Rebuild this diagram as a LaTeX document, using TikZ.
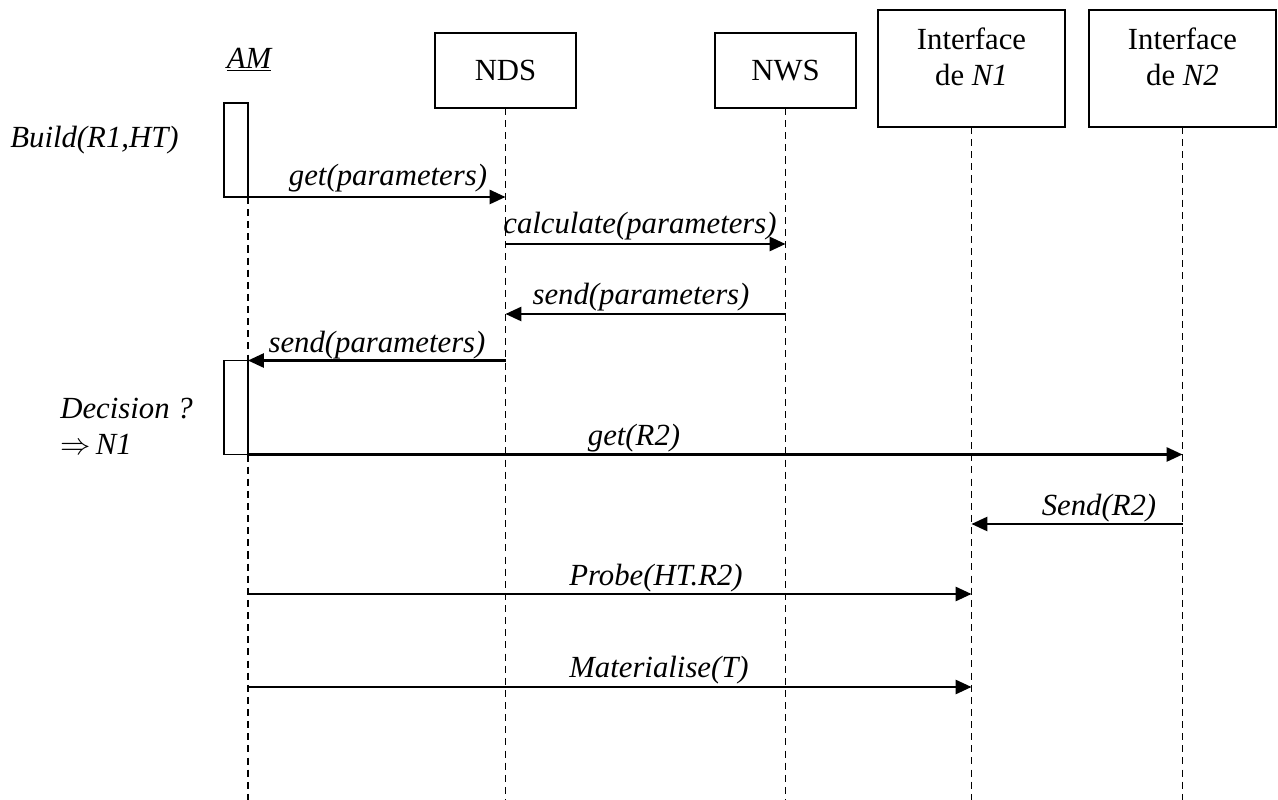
\documentclass[tikz,border=0pt]{standalone}
\usepackage{fontspec}
\setmainfont{Liberation Serif}
\usetikzlibrary{arrows.meta}

\newcommand{\diagfont}{\fontsize{17.5}{20.5}\selectfont}

\begin{document}
\begin{tikzpicture}[x=0.02cm, y=-0.02cm,
  headbox/.style={draw, line width=0.9pt, inner sep=0pt, outer sep=0pt},
  actbox/.style={draw, line width=0.9pt, inner sep=0pt, outer sep=0pt,
    minimum width=0.48cm, minimum height=1.88cm},
  lifeline/.style={line width=1.05pt, dash pattern=on 4pt off 2.9pt},
  msg/.style={line width=1.3pt, -{Triangle[length=9pt,width=8pt]}},
  lbl/.style={font=\diagfont\itshape, inner sep=0pt},
  headtext/.style={font=\diagfont, inner sep=0pt, align=center}]

\useasboundingbox (0,0) rectangle (1278,800);
\coordinate (bottom) at (0,800);

% object heads
\node[font=\diagfont\itshape, inner sep=0pt] (am) at (249,60) {\underline{AM}};
\node[headbox, minimum width=2.82cm, minimum height=1.5cm, headtext] (nds) at (505.5,70.5) {NDS};
\node[headbox, minimum width=2.82cm, minimum height=1.5cm, headtext] (nws) at (785.5,70.5) {NWS};
\node[headbox, minimum width=3.74cm, minimum height=2.34cm] (n1) at (971.5,68.5) {};
\node[headbox, minimum width=3.74cm, minimum height=2.34cm] (n2) at (1182.5,68.5) {};
\node[headtext, anchor=north] (n1t) at ([yshift=-0.35cm]n1.north) {Interface\\de \textit{N1}};
\node[headtext, anchor=north] (n2t) at ([yshift=-0.35cm]n2.north) {Interface\\de \textit{N2}};

% activation boxes of AM
\node[actbox] (act1) at (236,150) {};
\node[actbox] (act2) at (236,407.5) {};

% lifelines
\draw[lifeline] (act1.south east) -- (act2.north east);
\draw[lifeline] (act2.south east) -- (act2.south east |- bottom);
\draw[lifeline] (nds.south) -- (nds.south |- bottom);
\draw[lifeline] (nws.south) -- (nws.south |- bottom);
\draw[lifeline] (n1.south) -- (n1.south |- bottom);
\draw[lifeline] (n2.south) -- (n2.south |- bottom);

% message rows
\coordinate (r2) at (0,244);
\coordinate (r3) at (0,314);
\coordinate (r6) at (0,524);
\coordinate (r7) at (0,594);
\coordinate (r8) at (0,687);

% messages
\draw[msg] (act1.south east) -- (nds |- act1.south east);
\draw[msg] (nds |- r2) -- (nws |- r2);
\draw[msg] (nws |- r3) -- (nds |- r3);
\draw[msg] (nds |- act2.north east) -- (act2.north east);
\draw[msg] (act2.south east) -- (n2 |- act2.south east);
\draw[msg] (n2 |- r6) -- (n1 |- r6);
\draw[msg] (am |- r7) -- (n1 |- r7);
\draw[msg] (am |- r8) -- (n1 |- r8);

% message labels
\node[lbl] (l1) at (388,178) {get(parameters)};
\node[lbl] (l2) at (640,226) {calculate(parameters)};
\node[lbl] (l3) at (641,297) {send(parameters)};
\node[lbl] (l4) at (377,345) {send(parameters)};
\node[lbl] (l5) at (634,438) {get(R2)};
\node[lbl] (l6) at (1099,508) {Send(R2)};
\node[lbl] (l7) at (656,578) {Probe(HT.R2)};
\node[lbl] (l8) at (659,670) {Materialise(T)};

% notes beside AM
\node[lbl, anchor=west] (build) at (10,140) {Build(R1,HT)};
\node[lbl, anchor=west, align=left] (dec) at (60,426) {Decision ?\\$\Rightarrow$\,N1};
\end{tikzpicture}
\end{document}
